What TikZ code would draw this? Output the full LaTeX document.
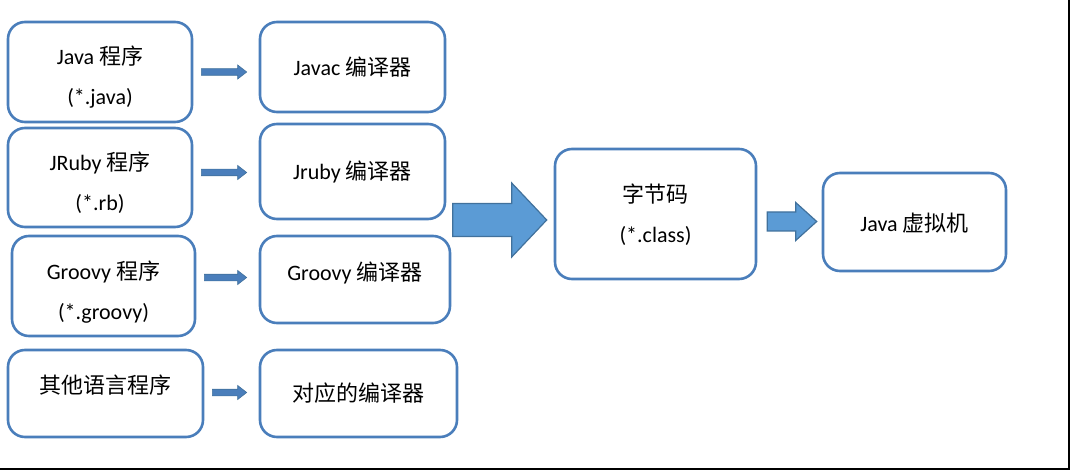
\documentclass[tikz,border=0pt]{standalone}
\usepackage{fontspec}
\setmainfont{Carlito}
\newfontfamily\cjk{Noto Sans CJK SC}
\usetikzlibrary{calc}

\definecolor{boxline}{HTML}{4A7EBB}
\definecolor{arrfill}{HTML}{5B9BD5}
\definecolor{arrline}{HTML}{41719C}

\newcommand\zh[1]{{\cjk #1}}
% block arrow: [style]{from}{to}{half shaft}{half head}{head length}
\newcommand\blockarrow[6][]{%
  \draw[#1] ($(#2)+(0,#4)$) -- ($(#3)+(-#6,#4)$) -- ($(#3)+(-#6,#5)$) -- (#3)
    -- ($(#3)+(-#6,-#5)$) -- ($(#3)+(-#6,-#4)$) -- ($(#2)+(0,-#4)$) -- cycle;}

\tikzset{
  box/.style={draw=boxline, line width=2.6pt, rounded corners=17pt, inner sep=0pt},
  txt/.style={align=center, font=\fontsize{22}{40}\selectfont, inner sep=0pt},
  thin arrow/.style={fill=boxline, draw=arrline, line width=0.6pt},
  fat arrow/.style={fill=arrfill, draw=arrline, line width=1.2pt}
}

\begin{document}
\begin{tikzpicture}[x=1pt, y=-1pt]
\useasboundingbox (0,0) rectangle (1070,470);
\draw[line width=2.5pt] (1068.75,0) -- (1068.75,468.75) -- (0,468.75);

% source programs
\node[box, minimum width=184, minimum height=100] (java) at (100,72) {};
\node[txt] (java-t) at ([yshift=-5pt]java.center) {Java \zh{程序}\\(*.java)};
\node[box, minimum width=184, minimum height=99] (jruby) at (100,177.5) {};
\node[txt] (jruby-t) at ([yshift=-5pt]jruby.center) {JRuby \zh{程序}\\(*.rb)};
\node[box, minimum width=183, minimum height=100] (groovy) at (103.5,286) {};
\node[txt] (groovy-t) at ([yshift=-6pt]groovy.center) {Groovy \zh{程序}\\(*.groovy)};
\node[box, minimum width=195, minimum height=87] (other) at (105.5,393.5) {};
\node[txt] (other-t) at ([yshift=8pt]other.center) {\zh{其他语言程序}};

% compilers
\node[box, minimum width=185, minimum height=90] (javac) at (352.5,67) {};
\node[txt] (javac-t) at (javac.center) {Javac \zh{编译器}};
\node[box, minimum width=185, minimum height=95] (jrubyc) at (352.5,171.5) {};
\node[txt] (jrubyc-t) at (jrubyc.center) {Jruby \zh{编译器}};
\node[box, minimum width=190, minimum height=87] (groovyc) at (355,279.5) {};
\node[txt] (groovyc-t) at ([yshift=7pt]groovyc.center) {Groovy \zh{编译器}};
\node[box, minimum width=197, minimum height=87] (otherc) at (358.5,393.5) {};
\node[txt] (otherc-t) at (otherc.center) {\zh{对应的编译器}};

\node[box, minimum width=201, minimum height=130] (bytecode) at (655.5,214) {};
\node[txt] (bytecode-t) at ([yshift=-1pt]bytecode.center) {\zh{字节码}\\(*.class)};
\node[box, minimum width=183, minimum height=98] (jvm) at (914.5,222) {};
\node[txt] (jvm-t) at ([yshift=-1pt]jvm.center) {Java \zh{虚拟机}};

\foreach \src/\dst/\dy in {java/javac/5, jruby/jrubyc/1, groovy/groovyc/-2, other/otherc/-1}{
  \coordinate (a) at ($(\src.east |- \dst.west)+(8,\dy)$);
  \coordinate (b) at ($(\dst.west)+(-12,\dy)$);
  \blockarrow[thin arrow]{a}{b}{3.3}{7}{9}
}

\coordinate (merge) at ($(groovyc.north east)!0.5!(jrubyc.south east)+(4,0)$);
\coordinate (merge) at (merge |- 0,220);
\coordinate (bc-in) at ($(merge -| bytecode.west)+(-7,0)$);
\blockarrow[fat arrow]{merge}{bc-in}{16.5}{37}{35}

\coordinate (bc-out) at ($(bytecode.east)+(10,7.5)$);
\coordinate (vm-in) at ($(bc-out -| jvm.west)+(-5,0)$);
\blockarrow[fat arrow]{bc-out}{vm-in}{9.5}{19}{21}
\end{tikzpicture}
\end{document}
